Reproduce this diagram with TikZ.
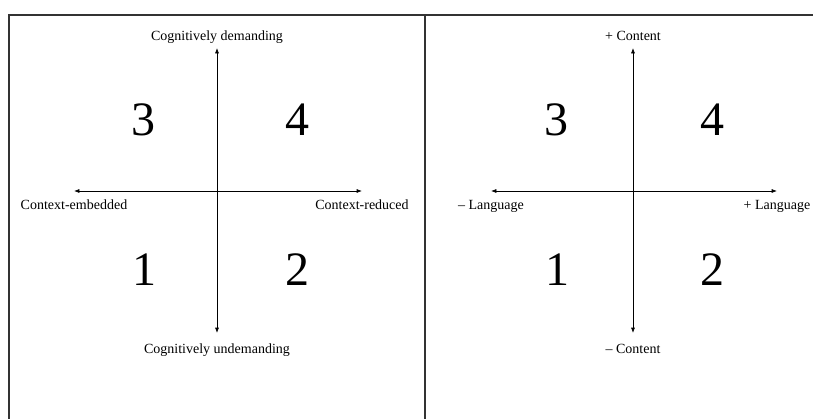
\documentclass[tikz,border=0pt]{standalone}
\usepackage{fontspec}
\setmainfont{Liberation Serif}
\usetikzlibrary{arrows.meta,positioning}

\begin{document}
\begin{tikzpicture}[
  x=0.75pt, y=-0.75pt,
  font=\fontsize{10.5}{12}\selectfont, >={Latex[length=4pt,width=3pt]},
  frame/.style={draw=black!80, line width=0.8pt},
  axis/.style={<->, line width=0.5pt},
  num/.style={font=\fontsize{36}{40}\selectfont, inner sep=0pt},
  lab/.style={inner sep=2pt, text height=7.5pt, text depth=2.5pt}]
  \useasboundingbox (0,0) rectangle (813,419);
  % frame
  \coordinate (ftr) at (813,15);
  \coordinate (ftl) at (9,15);
  \coordinate (fbl) at (9,419);
  \coordinate (fmt) at (425,15);
  \coordinate (fmb) at (425,419);
  \draw[frame] (ftr) -- (ftl) -- (fbl);
  \draw[frame] (fmt) -- (fmb);
  % left panel
  \coordinate (cdTop) at (217,48);
  \coordinate (cdBot) at (217,333);
  \coordinate (ceL) at (74,191);
  \coordinate (ceR) at (362,191);
  \draw[axis] (cdBot) -- (cdTop);
  \draw[axis] (ceL) -- (ceR);
  \node[lab, above=1pt of cdTop] (dem)   {Cognitively demanding};
  \node[lab, below=6pt of cdBot] (undem) {Cognitively undemanding};
  \node[lab, below=4pt of ceL]   (emb)   {Context-embedded};
  \node[lab, below=4pt of ceR]   (red)   {Context-reduced};
  \node[num] (q3) at (143,120) {3};
  \node[num] (q4) at (297,120) {4};
  \node[num] (q1) at (144,270) {1};
  \node[num] (q2) at (297,270) {2};
  % right panel
  \coordinate (coTop) at (633,48);
  \coordinate (coBot) at (633,333);
  \coordinate (laL) at (491,191);
  \coordinate (laR) at (777,191);
  \draw[axis] (coBot) -- (coTop);
  \draw[axis] (laL) -- (laR);
  \node[lab, above=1pt of coTop] (cplus)  {+ Content};
  \node[lab, below=6pt of coBot] (cminus) {\textendash{} Content};
  \node[lab, below=4pt of laL]   (lminus) {\textendash{} Language};
  \node[lab, below=4pt of laR]   (lplus)  {+ Language};
  \node[num] (r3) at (556,120) {3};
  \node[num] (r4) at (712,120) {4};
  \node[num] (r1) at (557,270) {1};
  \node[num] (r2) at (712,270) {2};
\end{tikzpicture}
\end{document}
